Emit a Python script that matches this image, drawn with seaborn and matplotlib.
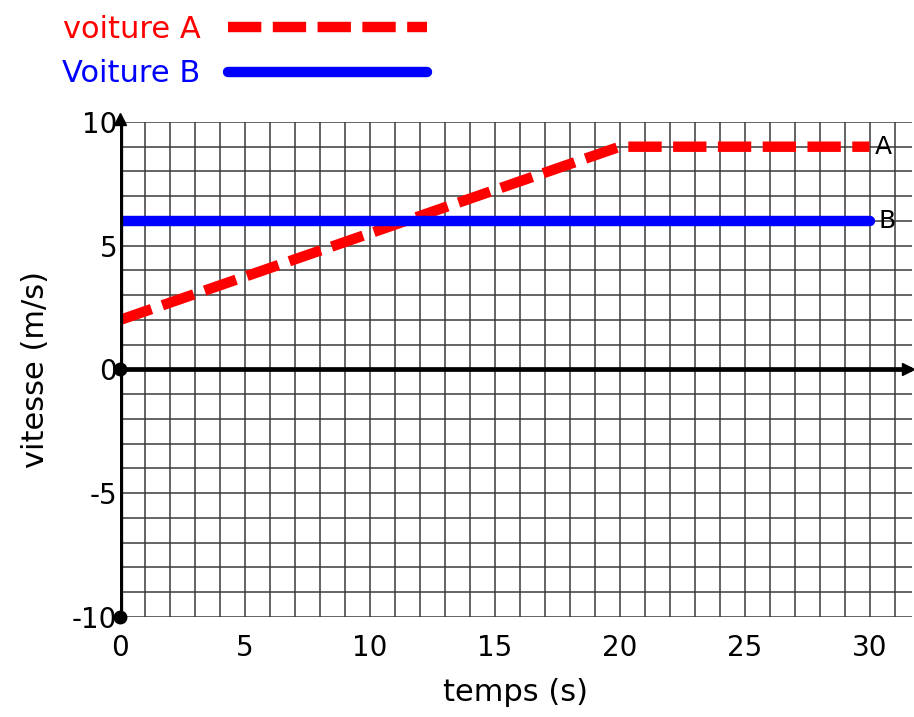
import numpy as np
import pandas as pd
import matplotlib
matplotlib.use("Agg")
import matplotlib.pyplot as plt
import seaborn as sns

# data
temps_a = [0, 20, 30]
vitesse_a = [2, 9, 9]
temps_b = [0, 30]
vitesse_b = [6, 6]
label_a = "voiture A"
label_b = "Voiture B"
x_ticks = [0, 5, 10, 15, 20, 25, 30]
y_ticks = [-10, -5, 0, 5, 10]

sns.set_style("white")
plt.rcParams['font.family'] = ['DejaVu Sans']
plt.rcParams['text.color'] = 'black'
plt.rcParams['axes.labelcolor'] = 'black'
plt.rcParams['xtick.color'] = 'black'
plt.rcParams['ytick.color'] = 'black'

df_a = pd.DataFrame({'temps': temps_a, 'vitesse': vitesse_a})
df_b = pd.DataFrame({'temps': temps_b, 'vitesse': vitesse_b})

fig = plt.figure(figsize=(9.14, 7.17), dpi=100)
ax = fig.add_axes([0.1313, 0.1395, 0.8665, 0.6904])

# grid every 1 unit
ax.set_xticks(np.arange(0, 32, 1), minor=True)
ax.set_yticks(np.arange(-10, 11, 1), minor=True)
ax.grid(which='both', color='#3a3a3a', lw=1.1)
ax.set_axisbelow(True)

sns.lineplot(data=df_a, x='temps', y='vitesse', ax=ax, color='#ff0000', lw=7.5,
             linestyle=(0, (3.2, 1.1)), label=label_a, sort=False, estimator=None)
sns.lineplot(data=df_b, x='temps', y='vitesse', ax=ax, color='#0000ff', lw=7.5,
             solid_capstyle='round', label=label_b, sort=False, estimator=None)

ax.set_xlim(0, 31.7)
ax.set_ylim(-10, 10)
ax.set_xticks(x_ticks)
ax.set_yticks(y_ticks)
ax.set_xticklabels([str(t) for t in x_ticks])
ax.set_yticklabels([str(t) for t in y_ticks])
ax.tick_params(which='both', length=0, labelsize=20)
ax.tick_params(axis='x', pad=12)
ax.tick_params(axis='y', pad=2)

for s in ax.spines.values():
    s.set_visible(False)

# axes with arrows
ax.axvline(0, color='black', lw=3.8, zorder=3)
ax.axhline(0, color='black', lw=3.4, zorder=3)
ax.plot([0], [10.1], marker='^', ms=9, color='black', clip_on=False, zorder=4)
ax.plot([31.55], [0], marker='>', ms=9, color='black', clip_on=False, zorder=4)
ax.plot([0, 0], [0, -10], 'o', ms=9, color='black', clip_on=False, zorder=4)

ax.text(30.2, vitesse_a[-1], 'A', va='center', ha='left', fontsize=18)
ax.text(30.35, vitesse_b[-1], 'B', va='center', ha='left', fontsize=18)

ax.set_xlabel('temps (s)', fontsize=22, labelpad=12)
ax.set_ylabel('vitesse (m/s)', fontsize=22, labelpad=16)

ax.legend(loc='upper left', bbox_to_anchor=(0.068, 0.979), bbox_transform=fig.transFigure,
          frameon=False, markerfirst=False, labelcolor='linecolor', fontsize=22,
          handlelength=6.5, handletextpad=0.9, labelspacing=0.5, borderpad=0,
          borderaxespad=0)

fig.savefig('out.png', dpi=100)
